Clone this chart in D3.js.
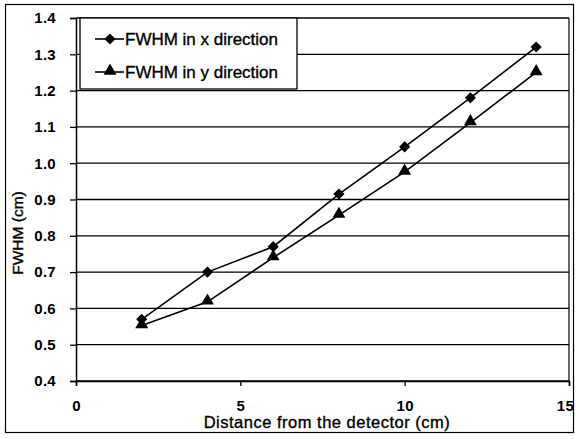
<!DOCTYPE html>
<html>
<head>
<meta charset="utf-8">
<script src="https://cdn.jsdelivr.net/npm/d3@7/dist/d3.min.js"></script>
<style>
  html, body { margin: 0; padding: 0; background: #fff; }
  svg { display: block; font-family: "Liberation Sans", Arial, sans-serif; }
  .label { fill: #000; stroke: #000; stroke-width: 0.35px; }
</style>
</head>
<body>
<svg id="chart" width="576" height="439"></svg>
<script>
// Source distance from the detector (cm)
const distances = [2, 4, 6, 8, 10, 12, 14];
// Measured FWHM (cm)
const fwhmX = [0.57, 0.70, 0.77, 0.915, 1.045, 1.18, 1.32];
const fwhmY = [0.553, 0.618, 0.74, 0.857, 0.976, 1.112, 1.25];
const seriesNames = ["FWHM in x direction", "FWHM in y direction"];
const xTicks = [0, 5, 10, 15];
const yTicks = [0.4, 0.5, 0.6, 0.7, 0.8, 0.9, 1.0, 1.1, 1.2, 1.3, 1.4];

const svg = d3.select("#chart");
const plotLeft = 76, plotRight = 569, plotTop = 18, plotBottom = 381;

const x = d3.scaleLinear().domain([0, 15]).range([plotLeft, plotRight]);
const y = d3.scaleLinear().domain([0.4, 1.4]).range([plotBottom, plotTop]);

// Outer chart frame
svg.append("rect")
  .attr("x", 5.5).attr("y", 4.5).attr("width", 568).attr("height", 428)
  .attr("fill", "none").attr("stroke", "#000").attr("stroke-width", 1.2);

// Horizontal gridlines
svg.append("g").selectAll("line").data(yTicks).join("line")
  .attr("x1", plotLeft).attr("x2", plotRight)
  .attr("y1", d => y(d)).attr("y2", d => y(d))
  .attr("stroke", "#000").attr("stroke-width", 1.3);

// Right border of plot area
svg.append("line")
  .attr("x1", plotRight).attr("x2", plotRight).attr("y1", plotTop).attr("y2", plotBottom)
  .attr("stroke", "#000").attr("stroke-width", 1.2);

// Y axis
const yAxis = svg.append("g").attr("transform", `translate(${plotLeft},0)`)
  .call(d3.axisLeft(y).tickValues(yTicks).tickFormat(d3.format(".1f")).tickSize(6).tickPadding(14));
// X axis
const xAxis = svg.append("g").attr("transform", `translate(0,${plotBottom})`)
  .call(d3.axisBottom(x).tickValues(xTicks).tickFormat(d3.format("d")).tickSize(5).tickPadding(14));

[yAxis, xAxis].forEach(g => {
  g.select(".domain").attr("stroke", "#000").attr("stroke-width", 1.5);
  g.selectAll(".tick line").attr("stroke", "#000").attr("stroke-width", 1.3);
  g.selectAll(".tick text")
    .attr("fill", "#000")
    .style("font-size", "15px")
    .style("font-weight", "bold")
    .style("letter-spacing", "0.3px")
    .style("font-family", "'Liberation Sans', Arial, sans-serif");
});
xAxis.selectAll(".tick text").attr("dy", "0.71em");
// keep the last label inside the frame
xAxis.selectAll(".tick text").filter(d => d === 15).attr("dx", "-4");

// Axis titles
svg.append("text").attr("class", "label")
  .attr("x", 327).attr("y", 428)
  .attr("text-anchor", "middle")
  .style("font-size", "16.5px")
  .style("letter-spacing", "0.5px")
  .text("Distance from the detector (cm)");

svg.append("text").attr("class", "label")
  .attr("transform", "translate(23,233) rotate(-90)")
  .attr("text-anchor", "middle")
  .style("font-size", "15.5px")
  .text("FWHM (cm)");

// Series lines and markers
const line = d3.line().x((d, i) => x(distances[i])).y(d => y(d));
const diamond = d3.symbol().type(d3.symbolSquare).size(62);
const triangle = d3.symbol().type(d3.symbolTriangle).size(72);

svg.append("path").datum(fwhmX).attr("d", line)
  .attr("fill", "none").attr("stroke", "#000").attr("stroke-width", 1.6);
svg.append("path").datum(fwhmY).attr("d", line)
  .attr("fill", "none").attr("stroke", "#000").attr("stroke-width", 1.6);

svg.append("g").selectAll("path").data(fwhmX).join("path")
  .attr("transform", (d, i) => `translate(${x(distances[i])},${y(d)}) rotate(45)`)
  .attr("d", diamond).attr("fill", "#000");
svg.append("g").selectAll("path").data(fwhmY).join("path")
  .attr("transform", (d, i) => `translate(${x(distances[i])},${y(d) - 1})`)
  .attr("d", triangle).attr("fill", "#000");

// Legend
const legend = svg.append("g");
legend.append("rect")
  .attr("x", 80).attr("y", 18).attr("width", 217).attr("height", 71)
  .attr("fill", "#fff").attr("stroke", "#000").attr("stroke-width", 1.3);
seriesNames.forEach((name, i) => {
  const cy = 39 + i * 33;
  legend.append("line")
    .attr("x1", 95).attr("x2", 124).attr("y1", cy).attr("y2", cy)
    .attr("stroke", "#000").attr("stroke-width", 1.6);
  legend.append("path")
    .attr("transform", i ? `translate(110,${cy - 1})` : `translate(110,${cy}) rotate(45)`)
    .attr("d", i ? triangle : diamond).attr("fill", "#000");
  legend.append("text").attr("class", "label")
    .attr("x", 125).attr("y", cy + 6)
    .style("font-size", "17px")
    .text(name);
});
</script>
</body>
</html>
